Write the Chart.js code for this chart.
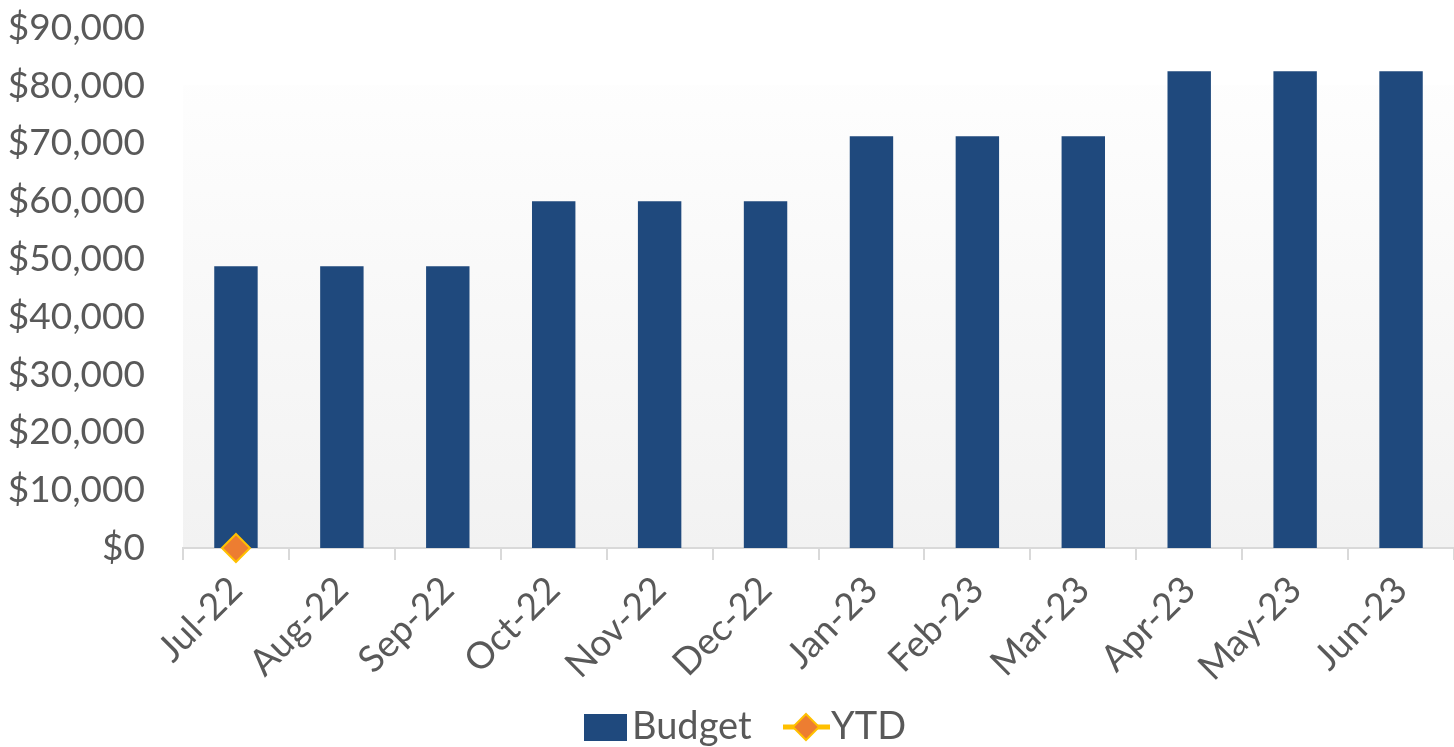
<!DOCTYPE html>
<html>
<head>
<meta charset="utf-8">
<script src="https://cdn.jsdelivr.net/npm/chart.js@4"></script>
<style>
  html, body { margin: 0; padding: 0; background: #fff; }
  #wrap { width: 1454px; height: 747px; }
</style>
</head>
<body>
<div id="wrap"><canvas id="budget-chart" width="1454" height="747"></canvas></div>
<script>
const months = ['Jul-22', 'Aug-22', 'Sep-22', 'Oct-22', 'Nov-22', 'Dec-22',
                'Jan-23', 'Feb-23', 'Mar-23', 'Apr-23', 'May-23', 'Jun-23'];
const budget = [48750, 48750, 48750, 60000, 60000, 60000, 71250, 71250, 71250, 82500, 82500, 82500];
const ytd = [0, null, null, null, null, null, null, null, null, null, null, null];

const FONT = 'Lato, "Open Sans", sans-serif';
const TEXT = '#595959';

// plot background: white at top fading to light grey at the axis
const plotBg = {
  id: 'plotBg',
  beforeDraw(chart) {
    const { ctx, chartArea: a } = chart;
    const g = ctx.createLinearGradient(0, a.top, 0, a.bottom);
    g.addColorStop(0, '#ffffff');
    g.addColorStop(1, '#f2f2f2');
    ctx.save();
    ctx.fillStyle = g;
    ctx.fillRect(a.left, a.top + 57, a.right - a.left, a.bottom - a.top - 57);
    ctx.restore();
  }
};

// legend drawn by hand: box for Budget, line + diamond for YTD
const legendPlugin = {
  id: 'customLegend',
  afterDraw(chart) {
    const ctx = chart.ctx;
    const y = 727;
    ctx.save();
    ctx.font = '38px ' + FONT;
    ctx.textBaseline = 'middle';
    ctx.fillStyle = '#1f497d';
    ctx.fillRect(584, y - 13, 43, 27);
    ctx.fillStyle = TEXT;
    ctx.fillText('Budget', 632, y);

    ctx.strokeStyle = '#ffc000';
    ctx.lineWidth = 5;
    ctx.beginPath();
    ctx.moveTo(783, y);
    ctx.lineTo(830, y);
    ctx.stroke();
    ctx.beginPath();
    ctx.moveTo(806, y - 13);
    ctx.lineTo(819, y);
    ctx.lineTo(806, y + 13);
    ctx.lineTo(793, y);
    ctx.closePath();
    ctx.fillStyle = '#ed7d31';
    ctx.fill();
    ctx.lineWidth = 2;
    ctx.stroke();
    ctx.fillStyle = TEXT;
    ctx.fillText('YTD', 831, y);
    ctx.restore();
  }
};

new Chart(document.getElementById('budget-chart'), {
  data: {
    labels: months,
    datasets: [
      {
        type: 'line',
        label: 'YTD',
        data: ytd,
        clip: false,
        borderColor: '#ffc000',
        borderWidth: 3,
        pointStyle: 'rectRot',
        pointRadius: 14,
        pointBackgroundColor: '#ed7d31',
        pointBorderColor: '#ffc000',
        pointBorderWidth: 2,
        order: 0
      },
      {
        type: 'bar',
        label: 'Budget',
        data: budget,
        backgroundColor: '#1f497d',
        categoryPercentage: 1,
        barPercentage: 0.41,
        order: 1
      }
    ]
  },
  options: {
    responsive: false,
    animation: false,
    layout: { autoPadding: false, padding: 0 },
    plugins: {
      legend: { display: false },
      tooltip: { enabled: false }
    },
    scales: {
      x: {
        offset: true,
        grid: {
          offset: true,
          drawOnChartArea: false,
          drawTicks: true,
          tickLength: 12,
          color: '#d9d9d9',
          lineWidth: 2
        },
        border: { color: '#d9d9d9', width: 2 },
        ticks: {
          color: TEXT,
          font: { family: FONT, size: 37 },
          minRotation: 45,
          maxRotation: 45,
          padding: 8
        },
        afterFit(scale) {
          scale.height = 199;
          scale.paddingRight = 0;
        }
      },
      y: {
        min: 0,
        max: 90000,
        grid: { display: false },
        border: { display: false },
        ticks: {
          stepSize: 10000,
          color: TEXT,
          padding: 30,
          font: { family: FONT, size: 37 },
          callback: (v) => '$' + v.toLocaleString('en-US')
        },
        afterFit(scale) {
          scale.width = 183;
          scale.paddingTop = 28;
          scale.paddingBottom = 0;
        }
      }
    }
  },
  plugins: [plotBg, legendPlugin]
});
</script>
</body>
</html>
